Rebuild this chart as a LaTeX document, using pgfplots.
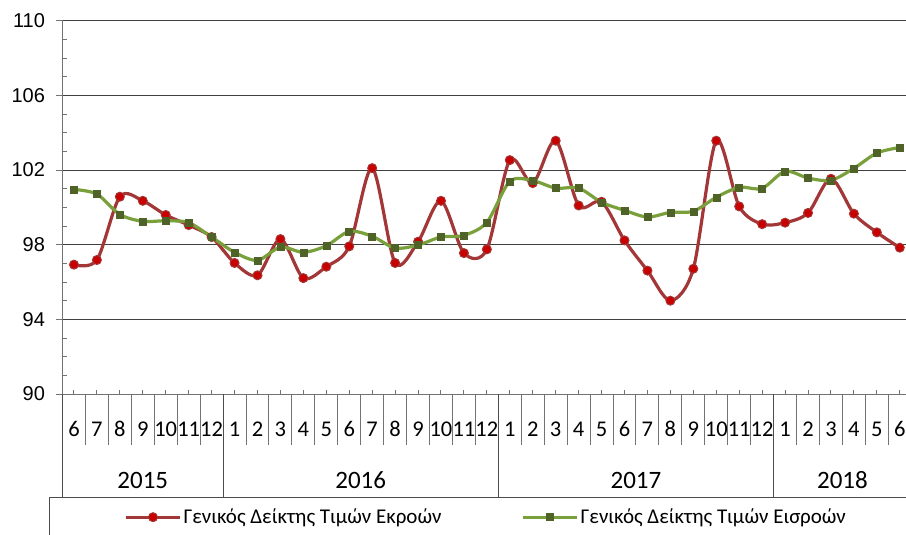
\documentclass[border=0pt]{standalone}
\usepackage{pgfplots}
\usepackage{pgfplotstable}
\pgfplotsset{compat=1.18}
\usepackage{fontspec}
\setmainfont{Carlito}
\newfontfamily\arialf{Liberation Sans}
\definecolor{outc}{RGB}{163,55,55}
\definecolor{outm}{RGB}{200,0,0}
\definecolor{inc}{RGB}{122,160,60}
\definecolor{inm}{RGB}{79,98,40}
\pgfplotstableread{
x out in
0 96.93 100.96
1 97.18 100.71
2 100.57 99.62
3 100.35 99.25
4 99.59 99.28
5 99.05 99.18
6 98.41 98.41
7 97.02 97.59
8 96.36 97.16
9 98.30 97.87
10 96.21 97.59
11 96.82 97.94
12 97.91 98.71
13 102.10 98.45
14 97.02 97.82
15 98.16 97.98
16 100.35 98.41
17 97.55 98.50
18 97.75 99.20
19 102.53 101.39
20 101.30 101.43
21 103.57 101.03
22 100.10 101.03
23 100.30 100.27
24 98.23 99.84
25 96.61 99.48
26 95.00 99.73
27 96.71 99.79
28 103.57 100.54
29 100.05 101.07
30 99.10 101.02
31 99.18 101.93
32 99.70 101.57
33 101.53 101.45
34 99.66 102.09
35 98.66 102.91
36 97.84 103.21
}\datatable
\begin{document}
\begin{tikzpicture}
\useasboundingbox (-62.5bp,-141bp) rectangle (843.5bp,394bp);
\begin{axis}[
  scale only axis, width=843bp, height=373.3bp,
  at={(0,0)}, anchor=south west,
  xmin=-0.5, xmax=36.25, ymin=90, ymax=110,
  clip=false,
  axis x line*=bottom, axis y line*=left,
  axis line style={black!55, line width=1bp},
  ytick={90,94,...,110},
  minor ytick={91,92,93,95,96,97,99,100,101,103,104,105,107,108,109},
  ymajorgrids,
  major grid style={black!75, line width=1bp},
  tick align=outside,
  major tick length=6bp, minor tick length=4bp,
  major tick style={black!55, line width=1bp},
  minor tick style={black!55, line width=1bp, xshift=4bp},
  yticklabel style={font=\arialf\fontsize{20bp}{24bp}\selectfont, xshift=-8bp},
  /pgf/number format/assume math mode=true,
  xtick={0,...,36},
  xticklabels={6,7,8,9,10,11,12,1,2,3,4,5,6,7,8,9,10,11,12,1,2,3,4,5,6,7,8,9,10,11,12,1,2,3,4,5,6},
  x tick style={draw=none},
  xticklabel style={anchor=center, yshift=-29bp, font=\fontsize{22.5bp}{26bp}\selectfont},
  legend style={at={(0.5025,-0.33)}, anchor=center, draw=none, fill=none,
    font=\fontsize{21bp}{25bp}\selectfont,
    /tikz/every even column/.append style={column sep=78bp}},
  legend columns=2,
  legend image code/.code={\draw[mark repeat=2,mark phase=2] plot coordinates {(0bp,0bp) (27bp,0bp) (54bp,0bp)};},
]
\pgfplotsinvokeforeach{0.5,1.5,...,35.5}{\draw[black!55, line width=1bp] (axis cs:#1,90) -- ([yshift=-51bp]axis cs:#1,90);}
\pgfplotsinvokeforeach{0,...,36}{\draw[black!55, line width=1bp] (axis cs:#1,90) -- ([yshift=4bp]axis cs:#1,90);}
\pgfplotsinvokeforeach{6.5,18.5,30.5,-0.5}{\draw[black!70, line width=1bp] (axis cs:#1,90) -- ([yshift=-103bp]axis cs:#1,90);}
\node[font=\fontsize{25bp}{30bp}\selectfont, yshift=-86bp] at (axis cs:3,90) {2015};
\node[font=\fontsize{25bp}{30bp}\selectfont, yshift=-86bp] at (axis cs:12.5,90) {2016};
\node[font=\fontsize{25bp}{30bp}\selectfont, yshift=-86bp] at (axis cs:24.5,90) {2017};
\node[font=\fontsize{25bp}{30bp}\selectfont, yshift=-86bp] at (axis cs:33.5,90) {2018};
\addplot[color=outc, line width=3.2bp, smooth, mark=*, mark size=4.5bp,
  mark options={fill=outm, draw=outc, line width=1bp}] table[x=x, y=out] {\datatable};
\addlegendentry{Γενικός Δείκτης Τιμών Εκροών}
\addplot[color=inc, line width=3.2bp, smooth, mark=square*, mark size=3.5bp,
  mark options={fill=inm, draw=inm, line width=0.5bp}] table[x=x, y=in] {\datatable};
\addlegendentry{Γενικός Δείκτης Τιμών Εισροών}
\end{axis}
\draw[black!70, line width=1bp] (-12.5bp,-160bp) rectangle (870bp,-103bp);
\end{tikzpicture}
\end{document}
